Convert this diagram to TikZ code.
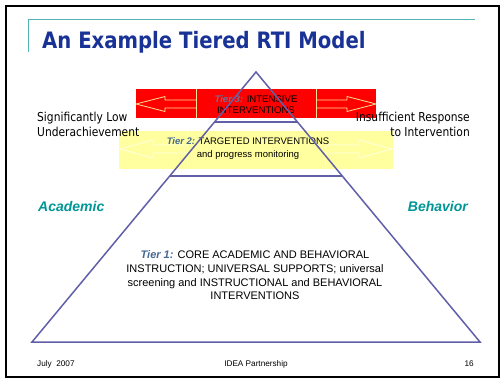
\documentclass[tikz,border=0pt]{standalone}
\usepackage{fontspec}
\setmainfont{Liberation Sans}
\newfontfamily\tahoma[FakeStretch=0.87]{DejaVu Sans}
\definecolor{titleblue}{RGB}{25,50,150}
\definecolor{rulteal}{RGB}{80,180,180}
\definecolor{sideteal}{RGB}{0,150,150}
\definecolor{tricol}{RGB}{96,96,168}
\definecolor{bandred}{RGB}{255,0,0}
\definecolor{paleline}{RGB}{255,225,150}
\definecolor{bandyel}{RGB}{255,255,160}
\definecolor{yelline}{RGB}{255,255,225}
\definecolor{tierslate}{RGB}{70,105,145}
\definecolor{tierthree}{RGB}{120,110,145}
\newcommand{\tierlab}[2]{\textcolor{#1}{\bfseries\itshape #2}}
\tikzset{
  txt/.style={inner sep=0pt, text=black},
  triline/.style={draw=tricol, line width=1.5pt, line join=miter},
  redout/.style={draw=paleline, line width=0.8pt, line join=miter},
  yelout/.style={draw=yelline, line width=0.8pt, line join=miter},
}
\begin{document}
\begin{tikzpicture}[x=1pt,y=-1pt]
\useasboundingbox (0,0) rectangle (502,381);
\fill[white] (0,0) rectangle (502,381);
% frame
\draw[line width=2pt] (6,6) rectangle (499,377);
% title rule
\draw[rulteal, line width=1pt] (475,19) -- (28,19) -- (28,52);
\node[txt, anchor=base west, font=\tahoma\bfseries\fontsize{22.6}{26}\selectfont, text=titleblue] (title) at (42,48) {An Example Tiered RTI Model};

% red band (tier 3)
\fill[bandred] (136,89) rectangle (376,118);
\draw[redout] (196,89) -- (196,118);
\draw[redout] (316,89) -- (316,118);
\draw[redout] (196,100) -- (165,100) -- (165,96.5) -- (136,104) -- (165,111.5) -- (165,108) -- (196,108);
\draw[redout] (316,100) -- (347,100) -- (347,96.5) -- (376,104) -- (347,111.5) -- (347,108) -- (316,108);

% yellow band (tier 2)
\fill[bandyel] (119,131) rectangle (393,169);
\draw[yelout] (187,131) -- (187,169);
\draw[yelout] (325,131) -- (325,169);
\draw[yelout] (187,145) -- (153,145) -- (153,140) -- (120,149) -- (153,158) -- (153,153) -- (187,153);
\draw[yelout] (325,145) -- (359,145) -- (359,140) -- (392,149) -- (359,158) -- (359,153) -- (325,153);

% tier texts
\node[txt, align=center, font=\fontsize{9.6}{11}\selectfont] (t3) at (256,104.2)
  {\tierlab{tierthree}{Tier 3:} INTENSIVE\\INTERVENTIONS};
\node[txt, align=center, font=\fontsize{9.5}{13}\selectfont] (t2) at (248,149)
  {\tierlab{tierslate}{Tier 2:} TARGETED INTERVENTIONS\\and progress monitoring};
\node[txt, align=center, font=\fontsize{11}{13.7}\selectfont] (t1) at (255,275.5)
  {\tierlab{tierslate}{Tier 1:} CORE ACADEMIC AND BEHAVIORAL\\INSTRUCTION; UNIVERSAL SUPPORTS; universal\\screening and INSTRUCTIONAL and BEHAVIORAL\\INTERVENTIONS};

% triangle
\coordinate (apex) at (256,72);
\coordinate (bl) at (32,342);
\coordinate (br) at (480,342);
\draw[triline] (apex) -- (br) -- (bl) -- cycle;
\draw[triline] (214.5,122) -- (297.5,122);
\draw[triline] (169.7,176) -- (342.3,176);

% side labels
\node[txt, anchor=north west, align=left, font=\tahoma\fontsize{12.3}{15}\selectfont] (low) at (37,111.6)
  {Significantly Low\\Underachievement};
\node[txt, anchor=north east, align=right, font=\tahoma\fontsize{12.3}{15}\selectfont] (resp) at (470,111.6)
  {Insufficient Response\\to Intervention};
\node[txt, anchor=base west, text=sideteal, font=\bfseries\itshape\fontsize{14}{16}\selectfont] (acad) at (38,211) {Academic};
\node[txt, anchor=base east, text=sideteal, font=\bfseries\itshape\fontsize{14}{16}\selectfont] (beh) at (468,211) {Behavior};

% footer
\node[txt, anchor=base west, font=\fontsize{8.2}{10}\selectfont] (date) at (37,366) {July\ \ 2007};
\node[txt, anchor=base, font=\fontsize{8.2}{10}\selectfont] (org) at (256,366) {IDEA Partnership};
\node[txt, anchor=base east, font=\fontsize{8.2}{10}\selectfont] (page) at (474,366) {16};
\end{tikzpicture}
\end{document}
